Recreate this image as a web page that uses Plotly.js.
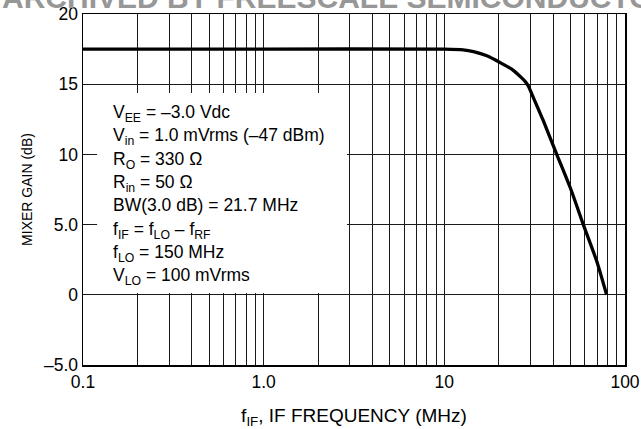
<!DOCTYPE html>
<html>
<head>
<meta charset="utf-8">
<script src="https://cdn.plot.ly/plotly-3.0.1.min.js"></script>
<style>html,body{margin:0;padding:0;background:#fff;}#chart{width:641px;height:429px;}</style>
</head>
<body>
<div id="chart"></div>
<script>
// ---- data ----
const freqMHz = [0.1, 1.0, 10, 12.7, 14.5, 17.2, 20.2, 23.8, 26.8, 28.0, 29.2, 31.1, 35.3, 41.9, 50.2, 58.8, 69.7, 79.1];
const gainDb  = [17.5, 17.5, 17.5, 17.45, 17.32, 17.02, 16.56, 16.04, 15.45, 15.2, 14.85, 14.05, 12.4, 10.0, 7.5, 5.0, 2.4, 0.0];

const decadeStarts = [0.1, 1, 10];
const decadeLabels = ['0.1', '1.0', '10'];
const lastDecade = 100;
const lastDecadeLabel = '100';
const multipliers = [1, 2, 3, 4, 5, 6, 7, 8, 9];

const yTickVals = [-5, 0, 5, 10, 15, 20];
const yTickText = ['\u20135.0', '0', '5.0', '10', '15', '20'];

const noteLines = [
  'V<sub>EE</sub> = \u20133.0 Vdc',
  'V<sub>in</sub> = 1.0 mVrms (\u201347 dBm)',
  'R<sub>O</sub> = 330 \u03A9',
  'R<sub>in</sub> = 50 \u03A9',
  'BW(3.0 dB) = 21.7 MHz',
  'f<sub>IF</sub> = f<sub>LO</sub> \u2013 f<sub>RF</sub>',
  'f<sub>LO</sub> = 150 MHz',
  'V<sub>LO</sub> = 100 mVrms'
];
const headerText = 'ARCHIVED BY FREESCALE SEMICONDUCTOR';

// ---- build ticks ----
const xTickVals = [];
const xTickText = [];
decadeStarts.forEach((d, i) => {
  multipliers.forEach(m => {
    xTickVals.push(+(d * m).toPrecision(3));
    xTickText.push(m === 1 ? decadeLabels[i] : '');
  });
});
xTickVals.push(lastDecade);
xTickText.push(lastDecadeLabel);

const FONT = '"Liberation Sans", Arial, sans-serif';

const annotations = noteLines.map((t, i) => ({
  text: t,
  xref: 'paper', yref: 'paper',
  x: 0.0535, y: 1, xanchor: 'left', yanchor: 'top',
  yshift: -87 - 23.3 * i,
  showarrow: false, borderpad: 0,
  font: {family: FONT, size: 17.5, color: '#000'}
}));
annotations.push({
  text: '<b>' + headerText + '</b>',
  xref: 'paper', yref: 'paper',
  x: -0.152, y: 1, xanchor: 'left', yanchor: 'middle',
  yshift: 17, showarrow: false, borderpad: 0,
  font: {family: FONT, size: 30, color: '#979797'}
});

const trace = {
  x: freqMHz, y: gainDb,
  type: 'scatter', mode: 'lines',
  line: {color: '#000', width: 3.3, shape: 'spline', smoothing: 0.6},
  hoverinfo: 'skip'
};

const layout = {
  width: 641, height: 429,
  margin: {l: 83, r: 16, t: 14, b: 64, pad: 0},
  paper_bgcolor: '#fff', plot_bgcolor: '#fff',
  showlegend: false,
  font: {family: FONT, color: '#000'},
  xaxis: {
    type: 'log', range: [-1, 2],
    tickmode: 'array', tickvals: xTickVals, ticktext: xTickText,
    showgrid: true, gridcolor: '#1a1a1a', gridwidth: 1,
    showline: true, linecolor: '#000', linewidth: 1.5, mirror: true,
    ticks: '', zeroline: false,
    tickfont: {family: FONT, size: 17.5, color: '#000'},
    title: {text: 'f<sub>IF</sub>, IF FREQUENCY (MHz)', font: {family: FONT, size: 19, color: '#000'}, standoff: 18}
  },
  yaxis: {
    range: [-5, 20],
    tickmode: 'array', tickvals: yTickVals, ticktext: yTickText,
    showgrid: true, gridcolor: '#1a1a1a', gridwidth: 1,
    showline: true, linecolor: '#000', linewidth: 1.5, mirror: true,
    ticks: '', zeroline: false,
    tickfont: {family: FONT, size: 17.5, color: '#000'},
    title: {text: 'MIXER GAIN (dB)', font: {family: FONT, size: 14, color: '#000'}, standoff: 8}
  },
  shapes: [{
    type: 'rect', xref: 'paper', yref: 'paper',
    x0: 0.026, x1: 0.487, y0: 0.205, y1: 0.775,
    fillcolor: '#fff', line: {width: 0}, layer: 'above'
  }],
  annotations: annotations
};

Plotly.newPlot('chart', [trace], layout, {staticPlot: true, displayModeBar: false});
</script>
</body>
</html>
